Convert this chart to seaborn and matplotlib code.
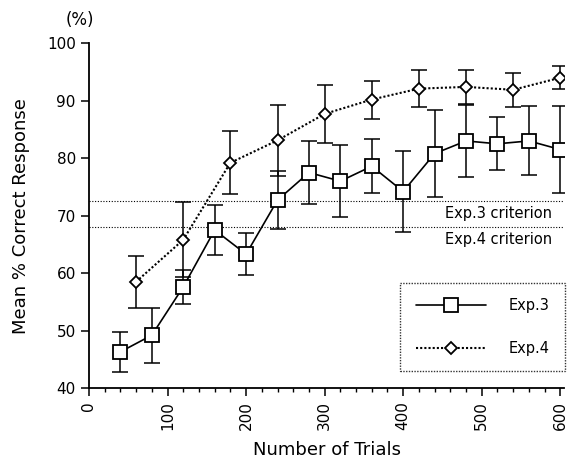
import numpy as np
import pandas as pd
import matplotlib
matplotlib.use("Agg")
import matplotlib.pyplot as plt
from matplotlib.ticker import MultipleLocator
import seaborn as sns

# Exp.3 (squares, solid)
exp3_trials = [40, 80, 120, 160, 200, 240, 280, 320, 360, 400, 440, 480, 520, 560, 600]
exp3_mean = [46.3, 49.2, 57.6, 67.5, 63.3, 72.7, 77.5, 76.0, 78.6, 74.2, 80.8, 83.0, 82.5, 83.0, 81.5]
exp3_err = [3.5, 4.8, 3.0, 4.4, 3.7, 5.1, 5.5, 6.3, 4.7, 7.0, 7.5, 6.2, 4.6, 6.0, 7.5]

# Exp.4 (diamonds, dotted)
exp4_trials = [60, 120, 180, 240, 300, 360, 420, 480, 540, 600]
exp4_mean = [58.5, 65.8, 79.2, 83.1, 87.7, 90.2, 92.1, 92.4, 91.9, 94.0]
exp4_err = [4.5, 6.5, 5.5, 6.2, 5.0, 3.3, 3.2, 3.0, 3.0, 2.0]

# criterion levels
criteria = [72.5, 68.0]
criteria_labels = ["Exp.3 criterion", "Exp.4 criterion"]

df3 = pd.DataFrame({"trials": exp3_trials, "mean": exp3_mean, "err": exp3_err})
df4 = pd.DataFrame({"trials": exp4_trials, "mean": exp4_mean, "err": exp4_err})

sns.set_style("ticks")
plt.rcParams['font.family'] = ['DejaVu Sans']
plt.rcParams['text.color'] = 'black'
plt.rcParams['axes.labelcolor'] = 'black'
plt.rcParams['axes.edgecolor'] = 'black'
plt.rcParams['xtick.color'] = 'black'
plt.rcParams['ytick.color'] = 'black'

fig = plt.figure(figsize=(5.74, 4.75), dpi=100)
ax = fig.add_axes([0.155, 0.183, 0.828, 0.726])

# criterion lines
for c, lab in zip(criteria, criteria_labels):
    ax.axhline(c, color="black", linestyle=(0, (1, 1.5)), linewidth=0.8, zorder=1)
    ax.text(590, c - 0.8, lab, ha="right", va="top", fontsize=10.5)

# error bars
ax.errorbar(df3["trials"], df3["mean"], yerr=df3["err"], fmt="none",
            ecolor="black", elinewidth=1.1, capsize=6, capthick=1.1, zorder=2)
ax.errorbar(df4["trials"], df4["mean"], yerr=df4["err"], fmt="none",
            ecolor="black", elinewidth=1.1, capsize=6, capthick=1.1, zorder=2)

sns.lineplot(data=df4, x="trials", y="mean", ax=ax, color="black",
             linestyle=(0, (1, 1)), linewidth=1.5, marker="D", markersize=6.5,
             markerfacecolor="white", markeredgecolor="black", markeredgewidth=1.3,
             label="Exp.4", zorder=3)
sns.lineplot(data=df3, x="trials", y="mean", ax=ax, color="black",
             linestyle="-", linewidth=1.2, marker="s", markersize=10,
             markerfacecolor="white", markeredgecolor="black", markeredgewidth=1.3,
             label="Exp.3", zorder=4)

ax.set_xlim(0, 605)
ax.set_ylim(40, 100)
ax.xaxis.set_major_locator(MultipleLocator(100))
ax.xaxis.set_minor_locator(MultipleLocator(20))
ax.yaxis.set_major_locator(MultipleLocator(10))
ax.tick_params(axis="x", which="major", length=6, width=1.1, labelsize=11, labelrotation=90)
ax.tick_params(axis="x", which="minor", length=3, width=1.0)
ax.tick_params(axis="y", which="major", length=6, width=1.1, labelsize=11)
for s in ["top", "right"]:
    ax.spines[s].set_visible(False)
for s in ["left", "bottom"]:
    ax.spines[s].set_linewidth(1.3)

ax.set_xlabel("Number of Trials", fontsize=13, labelpad=8)
ax.set_ylabel("Mean % Correct Response", fontsize=13, labelpad=12)
fig.text(0.14, 0.958, "(%)", ha="center", va="center", fontsize=12)

handles, labels = ax.get_legend_handles_labels()
order = [labels.index("Exp.3"), labels.index("Exp.4")]
leg = ax.legend([handles[i] for i in order], [labels[i] for i in order],
                loc="lower right", bbox_to_anchor=(1.002, 0.049), frameon=True,
                fancybox=False, fontsize=10.5, handlelength=4.8, handletextpad=1.6,
                labelspacing=1.9, borderpad=1.05, borderaxespad=0)
frame = leg.get_frame()
frame.set_edgecolor("black")
frame.set_linestyle((0, (1, 1)))
frame.set_linewidth(1.0)

fig.savefig("out.png", dpi=100)
